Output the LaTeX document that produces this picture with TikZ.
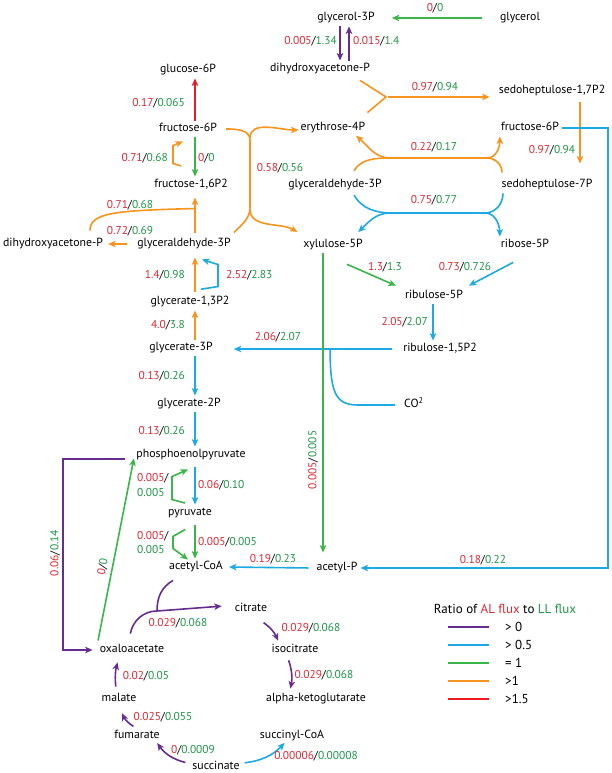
\documentclass[tikz,border=0pt]{standalone}
\usepackage{fontspec}
\setmainfont{PT Sans}
\usetikzlibrary{calc, arrows.meta}

\definecolor{cpurple}{RGB}{102,45,145}
\definecolor{cblue}{RGB}{28,170,226}
\definecolor{cgreen}{RGB}{57,181,74}
\definecolor{corange}{RGB}{247,148,30}
\definecolor{cred}{RGB}{237,28,36}
\definecolor{txtred}{RGB}{222,40,50}
\definecolor{txtgreen}{RGB}{30,150,70}

\newcommand{\flx}[2]{\textcolor{txtred}{#1}/\textcolor{txtgreen}{#2}}

\begin{document}
\begin{tikzpicture}[x=1pt, y=1pt]
    % Define block styles
    \tikzstyle{metab} = [inner sep=1pt, text height=8pt, text depth=2.5pt, font=\fontsize{11.8}{14}\selectfont]
    \tikzstyle{flux} = [inner sep=0pt, font=\fontsize{11.4}{15}\selectfont]
    \tikzstyle{legend} = [inner sep=0pt, font=\fontsize{13}{15}\selectfont]
    \tikzstyle{link} = [line width=1.6pt]
    \tikzstyle{flow} = [link, -{Stealth[length=7.5pt, width=6.5pt, inset=2pt]}, shorten >=2pt, shorten <=2pt]

    \useasboundingbox (0,0) rectangle (612,773);

    % Place nodes
    \node [metab] (glycerol_3p) at (346,755) {glycerol-3P};
    \node [metab] (glycerol) at (520,755) {glycerol};
    \node [metab] (dhap_top) at (320,704) {dihydroxyacetone-P};
    \node [metab] (glucose_6p) at (188,703) {glucose-6P};
    \node [metab] (fructose_6p_l) at (188,644) {fructose-6P};
    \node [metab] (erythrose_4p) at (333,645) {erythrose-4P};
    \node [metab] (sedo_17p2) at (552,682) {sedoheptulose-1,7P2};
    \node [metab] (fructose_6p_r) at (530,645) {fructose-6P};
    \node [metab] (fructose_16p2) at (191,588) {fructose-1,6P2};
    \node [metab] (gap_mid) at (335,588) {glyceraldehyde-3P};
    \node [metab] (sedo_7p) at (547,588) {sedoheptulose-7P};
    \node [metab] (dhap_left) at (53,529) {dihydroxyacetone-P};
    \node [metab] (gap_left) at (184,529) {glyceraldehyde-3P};
    \node [metab] (xylulose_5p) at (333,528) {xylulose-5P};
    \node [metab] (ribose_5p) at (525,528) {ribose-5P};
    \node [metab] (ribulose_5p) at (434,477) {ribulose-5P};
    \node [metab] (ribulose_15p2) at (440,424) {ribulose-1,5P2};
    \node [metab, anchor=west] (co2) at (403,368) {CO\textsuperscript{2}};
    \node [metab] (glycerate_13p2) at (190,471) {glycerate-1,3P2};
    \node [metab] (glycerate_3p) at (181,425) {glycerate-3P};
    \node [metab] (glycerate_2p) at (189,369) {glycerate-2P};
    \node [metab] (pep) at (191,318) {phosphoenolpyruvate};
    \node [metab] (pyruvate) at (190,260) {pyruvate};
    \node [metab] (acetyl_coa) at (196,206) {acetyl-CoA};
    \node [metab] (acetyl_p) at (337,205) {acetyl-P};
    \node [metab] (oxaloacetate) at (132,123) {oxaloacetate};
    \node [metab] (citrate) at (251,164) {citrate};
    \node [metab] (isocitrate) at (295,123) {isocitrate};
    \node [metab] (akg) at (316,74) {alpha-ketoglutarate};
    \node [metab] (malate) at (119,74) {malate};
    \node [metab] (fumarate) at (137,37) {fumarate};
    \node [metab] (succinate) at (216,6) {succinate};
    \node [metab] (succinyl_coa) at (292,37) {succinyl-CoA};

    % Junctions
    \coordinate (spine) at (195,0);
    \coordinate (rail) at (608,0);
    \coordinate (left_rail) at (63,0);
    \coordinate (y_join) at (386,676);
    \coordinate (tk_a) at (392,615);
    \coordinate (tk_b) at (487,615);
    \coordinate (ta_a) at (392,560);
    \coordinate (ta_b) at (485,560);
    \coordinate (tl_top) at (250,633);
    \coordinate (tl_bot) at (250,566);
    \coordinate (tca_join) at (157,162);

    % Draw connections as arrows
    \draw [flow, cgreen] ($(glycerol.west)+(-15,0)$) -- ($(glycerol_3p.east)+(14,0)$);
    \draw [flow, cpurple] ([xshift=-6pt]glycerol_3p.south) -- ([xshift=-6pt]glycerol_3p.south |- dhap_top.north);
    \draw [flow, cpurple] ([xshift=3pt]glycerol_3p.south |- dhap_top.north) -- ([xshift=3pt]glycerol_3p.south);
    \draw [link, corange] ($(dhap_top.south east)+(-11,-5)$) -- (y_join) -- ($(erythrose_4p.north east)+(1,9)$);
    \draw [flow, corange] (y_join) -- ($(sedo_17p2.west |- y_join)+(-6,0)$);
    \draw [flow, corange, shorten <=5pt, shorten >=15pt] ([xshift=28pt]sedo_17p2.south) -- ([xshift=28pt]sedo_17p2.south |- sedo_7p.north);
    \draw [flow, cblue] (fructose_6p_r.east) -- (fructose_6p_r.east -| rail) -- (acetyl_p.east -| rail) -- (acetyl_p.east);

    \draw [flow, corange] ($(gap_mid.north)+(18,6)$) to[out=60, in=180] (tk_a) -- (tk_b) to[out=0, in=-90] (fructose_6p_r.south west);
    \draw [flow, corange] (tk_a) to[out=180, in=-40] ($(erythrose_4p.south east)+(-12,0)$);
    \draw [link, corange] ($(sedo_7p.north)+(-45,6)$) to[out=90, in=0] (tk_b);
    \draw [flow, cblue] ($(gap_mid.south)+(18,-2)$) to[out=-60, in=180] (ta_a) -- (ta_b) to[out=0, in=90] (ribose_5p.north west);
    \draw [flow, cblue] (ta_a) to[out=180, in=45] ($(xylulose_5p.north east)+(-7,5)$);
    \draw [link, cblue] ($(sedo_7p.south)+(-44,-2)$) to[out=-90, in=0] (ta_b);

    \draw [flow, cgreen] ($(xylulose_5p.south)+(12,-12)$) -- ($(ribulose_5p.north west)+(-6,3)$);
    \draw [flow, cblue] ($(ribose_5p.south)+(-10,-10)$) -- ($(ribulose_5p.north east)+(3,3)$);
    \draw [flow, cblue] ([xshift=-1pt]ribulose_5p.south) -- ([xshift=-1pt]ribulose_5p.south |- ribulose_15p2.north);
    \draw [flow, cblue] ($(ribulose_15p2.west)+(-8,0)$) -- ($(glycerate_3p.east |- ribulose_15p2.west)+(18,0)$);
    \draw [link, cblue] ($(ribulose_15p2.west)+(-72,0)$) .. controls +(0,-45) and +(-22,0) .. ($(co2.west)+(-45,0)$) -- ($(co2.west)+(-8,0)$);
    \draw [flow, cgreen, shorten >=9pt] ([xshift=-10pt]xylulose_5p.south) -- ([xshift=-10pt]xylulose_5p.south |- acetyl_p.north);

    \draw [flow, cred] (fructose_6p_l.north -| spine) -- (glucose_6p.south -| spine);
    \draw [flow, cgreen] (fructose_6p_l.south -| spine) -- (fructose_16p2.north -| spine);
    \draw [flow, corange, shorten >=0pt] ($(fructose_16p2.north -| spine)+(-12,12)$) -- ++(-10,3) -- ++(0,18) -- ($(fructose_6p_l.south -| spine)+(-12,-6)$);
    \draw [flow, corange, shorten <=5pt, shorten >=6pt] (gap_left.north -| spine) -- (fructose_16p2.south -| spine);
    \draw [link, corange] ($(gap_left.north -| spine)+(0,29)$) .. controls +(-80,-2) and +(0,18) .. ($(dhap_left.north)+(37,7)$);
    \draw [flow, corange] ($(gap_left.west)+(-7,0)$) -- ($(dhap_left.east)+(2,0)$);
    \draw [link, corange] ($(fructose_6p_l.east)+(8,0)$) to[out=0, in=90] (tl_top) -- (tl_bot) to[out=-90, in=45] ($(gap_left.north east)+(2,5)$);
    \draw [flow, corange] (tl_top) to[out=90, in=180] ($(erythrose_4p.west)+(1,-2)$);
    \draw [flow, corange] (tl_bot) to[out=-90, in=150] ($(xylulose_5p.west)+(-3,12)$);

    \draw [flow, corange, shorten <=4pt, shorten >=7pt] (glycerate_13p2.north -| spine) -- (gap_left.south -| spine);
    \draw [flow, cblue, shorten >=0pt] ($(glycerate_13p2.north -| spine)+(4,6)$) -- ++(19,3) -- ++(0,22) -- ($(gap_left.south -| spine)+(7,-9)$);
    \draw [flow, corange] (glycerate_3p.north -| spine) -- (glycerate_13p2.south -| spine);
    \draw [flow, cblue] (glycerate_3p.south -| spine) -- (glycerate_2p.north -| spine);
    \draw [flow, cblue] (glycerate_2p.south -| spine) -- (pep.north -| spine);
    \draw [flow, cblue, shorten <=6pt] (pep.south -| spine) -- (pyruvate.north -| spine);
    \draw [flow, cgreen, shorten >=0pt] ($(pyruvate.north -| spine)+(-8,3)$) -- ++(-15,4) -- ++(0,23) -- ($(pep.south -| spine)+(-7,-8)$);
    \draw [flow, cgreen, shorten <=6pt] (pyruvate.south -| spine) -- (acetyl_coa.north -| spine);
    \draw [flow, cgreen, shorten >=0pt] ($(pyruvate.south -| spine)+(-8,-9)$) -- ++(-14,-8) -- ++(0,-12) -- ($(acetyl_coa.north -| spine)+(-7,1)$);
    \draw [flow, cblue] ($(acetyl_p.west)+(-5,0)$) -- ($(acetyl_coa.east)+(3,0)$);

    \draw [flow, cpurple] ($(pep.west)+(-8,-4)$) -| (left_rail |- oxaloacetate.west) -- ($(oxaloacetate.west)+(-4,0)$);
    \draw [flow, cgreen] ($(oxaloacetate.north west)+(-1,1)$) -- ($(pep.south west)+(-1,5)$);
    \draw [flow, cpurple] ($(oxaloacetate.north)+(-2,8)$) to[out=80, in=180] (tca_join) -- ($(citrate.west)+(-10,3)$);
    \draw [link, cpurple] ($(acetyl_coa.south)+(-23,-7)$) to[out=210, in=90] (tca_join);
    \draw [flow, cpurple] ($(citrate.south)+(11,-6)$) to[bend left=15] ($(isocitrate.north)+(-16,1)$);
    \draw [flow, cpurple] ($(isocitrate.south)+(-7,-2)$) to[bend left=15] ($(akg.north)+(-26,2)$);
    \draw [flow, cblue] ($(succinate.east)+(2,4)$) to[bend right=20] ($(succinyl_coa.south)+(-6,1)$);
    \draw [flow, cpurple] ($(succinate.west)+(-4,4)$) to[bend left=20] ($(fumarate.south)+(19,1)$);
    \draw [flow, cpurple] ($(fumarate.north)+(-2,2)$) to[bend left=15] ($(malate.south)+(2,-6)$);
    \draw [flow, cpurple] ($(malate.north)+(-3,4)$) to[bend left=10] ($(oxaloacetate.south)+(-14,-4)$);

    % Add text on the arrows
    \node [flux] (flux_glycerol) at (435,765) {\flx{0}{0}};
    \node [flux, anchor=east] (flux_g3p_down) at (337,732) {\flx{0.005}{1.34}};
    \node [flux, anchor=west] (flux_g3p_up) at (353,732) {\flx{0.015}{1.4}};
    \node [flux] (flux_aldolase) at (435,686) {\flx{0.97}{0.94}};
    \node [flux, anchor=east] (flux_g6p) at (185,670) {\flx{0.17}{0.065}};
    \node [flux, anchor=east] (flux_fbp_back) at (168,615) {\flx{0.71}{0.68}};
    \node [flux, anchor=west] (flux_pfk) at (198,615) {\flx{0}{0}};
    \node [flux] (flux_tk_left) at (280,605) {\flx{0.58}{0.56}};
    \node [flux] (flux_tk_right) at (434,626) {\flx{0.22}{0.17}};
    \node [flux] (flux_sbp) at (552,623) {\flx{0.97}{0.94}};
    \node [flux] (flux_ta) at (434,573) {\flx{0.75}{0.77}};
    \node [flux] (flux_aldo) at (130,568) {\flx{0.71}{0.68}};
    \node [flux] (flux_tpi) at (130,542) {\flx{0.72}{0.69}};
    \node [flux, anchor=east] (flux_gapdh) at (185,498) {\flx{1.4}{0.98}};
    \node [flux, anchor=west] (flux_gapdh_back) at (226,498) {\flx{2.52}{2.83}};
    \node [flux] (flux_rpe) at (385,506) {\flx{1.3}{1.3}};
    \node [flux] (flux_rpi) at (465,506) {\flx{0.73}{0.726}};
    \node [flux, anchor=east] (flux_prk) at (428,451) {\flx{2.05}{2.07}};
    \node [flux, anchor=east] (flux_pgk) at (185,448) {\flx{4.0}{3.8}};
    \node [flux] (flux_rubisco) at (278,436) {\flx{2.06}{2.07}};
    \node [flux, anchor=east] (flux_pgm) at (185,397) {\flx{0.13}{0.26}};
    \node [flux, anchor=east] (flux_eno) at (185,342) {\flx{0.13}{0.26}};
    \node [flux, rotate=90] (flux_xpk) at (313,313) {\flx{0.005}{0.005}};
    \node [flux, anchor=west, align=left] (flux_pps) at (137,288) {\textcolor{txtred}{0.005}/\\\textcolor{txtgreen}{0.005}};
    \node [flux, anchor=west] (flux_pk) at (198,288) {\flx{0.06}{0.10}};
    \node [flux, anchor=west, align=left, font=\fontsize{11.4}{14}\selectfont] (flux_pdh_back) at (137,230) {\textcolor{txtred}{0.005}/\\\textcolor{txtgreen}{0.005}};
    \node [flux, anchor=west] (flux_pdh) at (198,231) {\flx{0.005}{0.005}};
    \node [flux] (flux_pta) at (273,214) {\flx{0.19}{0.23}};
    \node [flux] (flux_fpk) at (483,213) {\flx{0.18}{0.22}};
    \node [flux, rotate=90] (flux_ppc) at (55,220) {\flx{0.06}{0.14}};
    \node [flux, rotate=79] (flux_pck) at (103,206) {\flx{0}{0}};
    \node [flux] (flux_cs) at (178,150) {\flx{0.029}{0.068}};
    \node [flux] (flux_acn) at (311,145) {\flx{0.029}{0.068}};
    \node [flux] (flux_icd) at (324,98) {\flx{0.029}{0.068}};
    \node [flux] (flux_mdh) at (146,97) {\flx{0.02}{0.05}};
    \node [flux] (flux_fum) at (163,56) {\flx{0.025}{0.055}};
    \node [flux] (flux_sdh) at (193,23) {\flx{0}{0.0009}};
    \node [flux] (flux_scs) at (316,17) {\flx{0.00006}{0.00008}};

    % Legend
    \node [legend] (legend_title) at (505,164) {Ratio of \textcolor{txtred}{AL flux} to \textcolor{txtgreen}{LL flux}};
    \foreach \col/\txt [count=\i] in {cpurple/{> 0}, cblue/{> 0.5}, cgreen/{= 1}, corange/{>1}, cred/{>1.5}} {
        \coordinate (legend_a\i) at (448,164-18*\i);
        \coordinate (legend_b\i) at (489,164-18*\i);
        \draw [link, \col] (legend_a\i) -- (legend_b\i);
        \node [legend, anchor=west] (legend_t\i) at (505,164-18*\i) {\txt};
    }
\end{tikzpicture}
\end{document}
